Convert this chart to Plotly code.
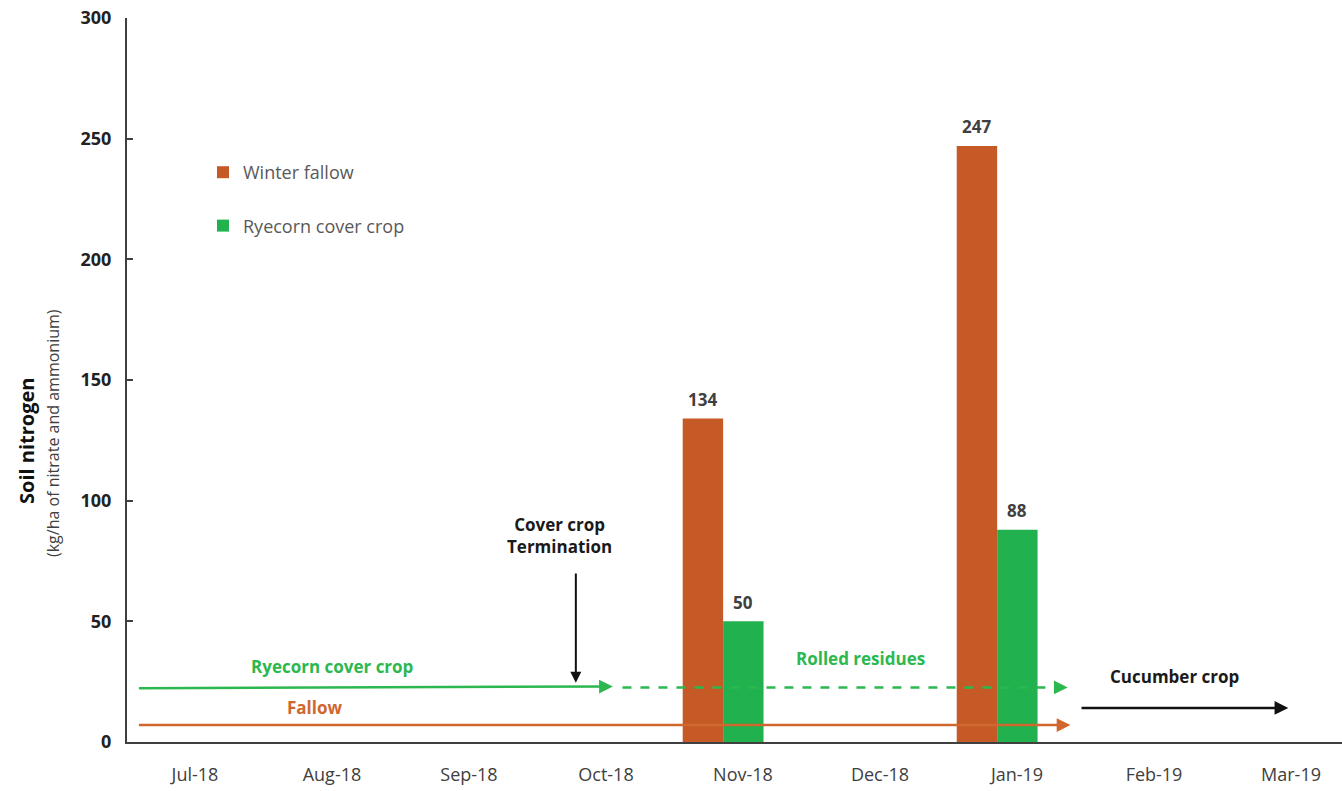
import plotly.graph_objects as go

# Monthly axis and sampling data
months = ["Jul-18", "Aug-18", "Sep-18", "Oct-18", "Nov-18",
          "Dec-18", "Jan-19", "Feb-19", "Mar-19"]
sample_months = ["Nov-18", "Jan-19"]
winter_fallow = [134, 247]
ryecorn = [50, 88]
y_ticks = [0, 50, 100, 150, 200, 250, 300]

ORANGE = "#C55A26"
GREEN = "#21B14F"
LINE_GREEN = "#2DB84F"
LINE_ORANGE = "#D0672F"
TEXT = "#404040"
FONT = "Open Sans"

W, H = 1342, 791
ML, MR, MT, MB = 127, 0, 18, 49
PW, PH = W - ML - MR, H - MT - MB

idx = {m: i for i, m in enumerate(months)}
sx = [idx[m] for m in sample_months]

BAR_W = 0.295
OFF_FALLOW, OFF_RYE = -0.44, -0.145

fig = go.Figure()

fig.add_trace(go.Bar(
    x=sx, y=winter_fallow, name="Winter fallow",
    marker=dict(color=ORANGE, line=dict(width=0)),
    width=BAR_W, offset=OFF_FALLOW, legendgroup="a",
))
fig.add_trace(go.Bar(
    x=sx, y=ryecorn, name="Ryecorn cover crop",
    marker=dict(color=GREEN, line=dict(width=0)),
    width=BAR_W, offset=OFF_RYE, legendgroup="b",
))

# Value labels above each bar
for values, off in ((winter_fallow, OFF_FALLOW), (ryecorn, OFF_RYE)):
    for x, v in zip(sx, values):
        fig.add_annotation(x=x + off + BAR_W / 2, y=v, xref="x", yref="y",
                           text=f"<b>{v}</b>", showarrow=False, yshift=19,
                           font=dict(family=FONT, size=17, color=TEXT))

# Management timeline lines (drawn in axis units)
def arrow(x0, y0, x1, y1, color, width=2.5):
    fig.add_annotation(x=x1, y=y1, ax=x0, ay=y0, xref="x", yref="y",
                       axref="x", ayref="y", text="", showarrow=True,
                       arrowhead=2, arrowsize=1.1, arrowwidth=width,
                       arrowcolor=color, standoff=0)

# Ryecorn cover crop period (solid) then rolled residues (dashed)
arrow(-0.42, 22.3, 3.05, 23.0, LINE_GREEN)
fig.add_shape(type="line", x0=3.12, y0=22.6, x1=6.30, y1=22.6,
              xref="x", yref="y", line=dict(color=LINE_GREEN, width=2.5, dash="dash"))
arrow(6.28, 22.6, 6.37, 22.6, LINE_GREEN)
# Fallow period
arrow(-0.42, 7.0, 6.39, 7.0, LINE_ORANGE)
# Cucumber crop
arrow(6.46, 14.1, 7.98, 14.1, "#111111")
# Cover crop termination
arrow(2.78, 70.4, 2.78, 24.6, "#111111", width=2)

def label(x, y, text, color):
    fig.add_annotation(x=x, y=y, xref="x", yref="y", text="<b>" + text + "</b>",
                       showarrow=False, font=dict(family=FONT, size=17, color=color))

label(1.0, 31.1, "Ryecorn cover crop", LINE_GREEN)
label(0.876, 14.1, "Fallow", LINE_ORANGE)
label(4.86, 34.4, "Rolled residues", LINE_GREEN)
label(7.15, 27.3, "Cucumber crop", "#1A1A1A")
fig.add_annotation(x=2.66, y=85.4, xref="x", yref="y",
                   text="<b>Cover crop</b><br><b>Termination</b>", showarrow=False,
                   font=dict(family=FONT, size=17, color="#1A1A1A"))

# Y axis title (two lines, different weights), positioned in pixels
def px_to_paper(px, py):
    return (px - ML) / PW, (H - MB - py) / PH

tx, ty = px_to_paper(26, 441)
fig.add_annotation(x=tx, y=ty, xref="paper", yref="paper", text="<b>Soil nitrogen</b>",
                   textangle=-90, showarrow=False, xanchor="center", yanchor="middle",
                   font=dict(family=FONT, size=20, color="#111111"))
sx2, sy2 = px_to_paper(53, 433)
fig.add_annotation(x=sx2, y=sy2, xref="paper", yref="paper",
                   text="(kg/ha of nitrate and ammonium)", textangle=-90, showarrow=False,
                   xanchor="center", yanchor="middle",
                   font=dict(family=FONT, size=16, color="#404040"))

lx, ly = px_to_paper(203, 154)
fig.update_layout(
    width=W, height=H,
    margin=dict(l=ML, r=MR, t=MT, b=MB),
    paper_bgcolor="white", plot_bgcolor="white",
    barmode="overlay",
    showlegend=True,
    legend=dict(x=lx, y=ly, xanchor="left", yanchor="top",
                font=dict(family=FONT, size=18, color="#595959"),
                tracegroupgap=27, bgcolor="rgba(0,0,0,0)"),
    xaxis=dict(range=[-0.496, 8.372], tickvals=list(range(len(months))),
               ticktext=months, showgrid=False, zeroline=False,
               showline=True, linecolor="#404040", linewidth=2, ticks="",
               tickfont=dict(family=FONT, size=18, color="#404040"),
               ticklabelstandoff=15),
    yaxis=dict(range=[0, 300], tickvals=y_ticks, showgrid=False, zeroline=False,
               showline=True, linecolor="#404040", linewidth=2,
               ticks="inside", ticklen=6, tickwidth=1.5, tickcolor="#404040",
               tickfont=dict(family=FONT, size=18, color="#222222", weight="bold"),
               ticklabelstandoff=10),
)

fig.write_html("out.html")
